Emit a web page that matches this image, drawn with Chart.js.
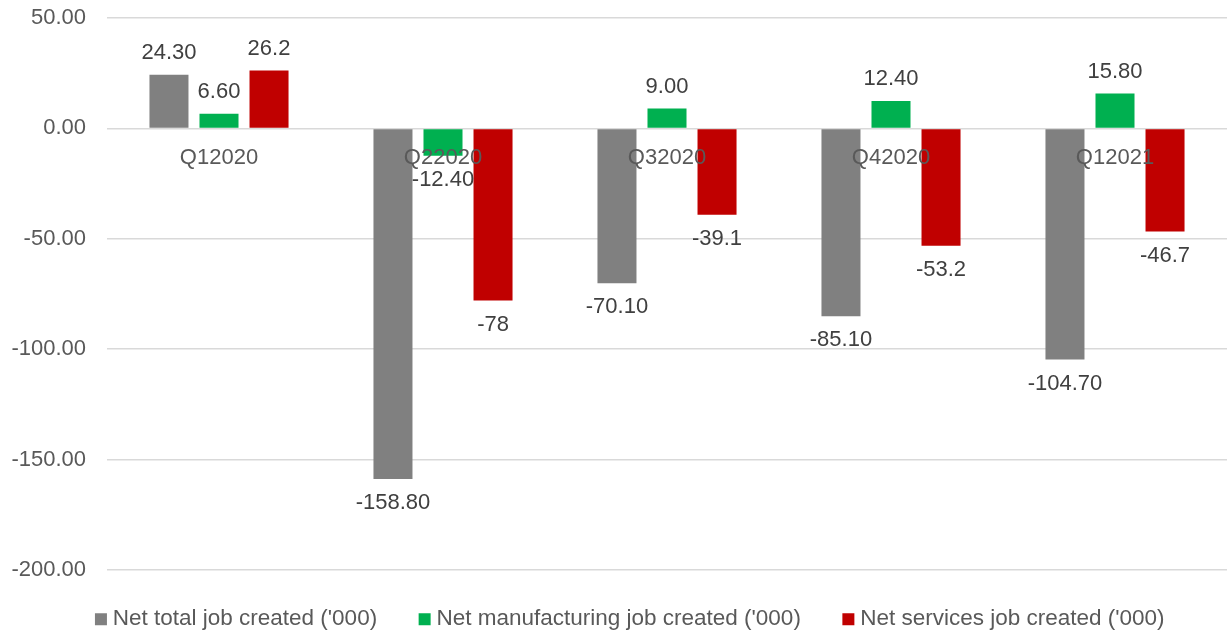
<!DOCTYPE html>
<html>
<head>
<meta charset="utf-8">
<script src="https://cdn.jsdelivr.net/npm/chart.js@4"></script>
<style>
html,body{margin:0;padding:0;background:#fff;}
#wrap{width:1227px;height:630px;position:relative;}
</style>
</head>
<body>
<div id="wrap"><canvas id="c" width="1227" height="630"></canvas></div>
<script>
const categories = ['Q12020', 'Q22020', 'Q32020', 'Q42020', 'Q12021'];
const seriesNames = ["Net total job created ('000)", "Net manufacturing job created ('000)", "Net services job created ('000)"];
const totalJobs = [24.3, -158.8, -70.1, -85.1, -104.7];
const manufacturingJobs = [6.6, -12.4, 9.0, 12.4, 15.8];
const servicesJobs = [26.2, -78, -39.1, -53.2, -46.7];
const yTicks = [-200, -150, -100, -50, 0, 50];

const FONT = "'Liberation Sans', Arial, sans-serif";
const FS = 22;

const labelPlugin = {
  id: 'labels',
  afterDatasetsDraw(chart) {
    const ctx = chart.ctx;
    const x = chart.scales.x, y = chart.scales.y;
    ctx.save();
    ctx.font = FS + 'px ' + FONT;
    ctx.textAlign = 'center';
    ctx.textBaseline = 'middle';
    ctx.fillStyle = '#595959';
    const y0 = y.getPixelForValue(0);
    categories.forEach((c, i) => {
      ctx.fillText(c, x.getPixelForValue(i), y0 + 30);
    });
    ctx.fillStyle = '#404040';
    chart.data.datasets.forEach((ds, di) => {
      const meta = chart.getDatasetMeta(di);
      meta.data.forEach((bar, i) => {
        const v = ds.data[i];
        const txt = ds.fmt(v);
        const py = v >= 0 ? bar.y - 22 : bar.y + 24;
        ctx.fillText(txt, bar.x, py);
      });
    });
    ctx.restore();
  }
};

const legendFit = {
  id: 'legendFit',
  beforeInit(chart) {
    const lg = chart.legend;
    if (!lg) return;
    const orig = lg.fit;
    lg.fit = function () {
      orig.call(this);
      this.height = 60;
    };
  },
  afterLayout(chart) {
    const lg = chart.legend;
    if (!lg) return;
    lg.top -= 9; lg.height += 9;
    lg.left += 19; lg.right += 19;
  }
};

new Chart(document.getElementById('c'), {
  type: 'bar',
  data: {
    labels: categories,
    datasets: [
      { label: seriesNames[0], data: totalJobs, backgroundColor: '#808080', fmt: v => v.toFixed(2) },
      { label: seriesNames[1], data: manufacturingJobs, backgroundColor: '#00B050', fmt: v => v.toFixed(2) },
      { label: seriesNames[2], data: servicesJobs, backgroundColor: '#C00000', fmt: v => String(v) }
    ]
  },
  options: {
    responsive: false,
    animation: false,
    devicePixelRatio: 1,
    layout: { padding: { top: 18, left: 0, right: 0, bottom: 0 } },
    datasets: { bar: { categoryPercentage: 0.67, barPercentage: 0.78 } },
    scales: {
      x: {
        display: false
      },
      y: {
        min: -200, max: 50,
        afterBuildTicks(scale) { scale.ticks = yTicks.map(v => ({ value: v })); },
        afterFit(scale) { scale.width = 107; scale.paddingTop = 0; scale.paddingBottom = 0; },
        ticks: {
          font: { size: FS, family: FONT },
          color: '#595959',
          padding: 21,
          callback: v => Number(v).toFixed(2)
        },
        grid: { color: '#d9d9d9', lineWidth: 1.5, drawTicks: false },
        border: { display: false }
      }
    },
    plugins: {
      legend: {
        position: 'bottom',
        labels: {
          font: { size: 22.5, family: FONT },
          color: '#595959',
          usePointStyle: true,
          pointStyle: 'rect',
          boxWidth: 1,
          boxHeight: 12,
          padding: 47
        }
      },
      tooltip: { enabled: false }
    }
  },
  plugins: [labelPlugin, legendFit]
});
</script>
</body>
</html>
